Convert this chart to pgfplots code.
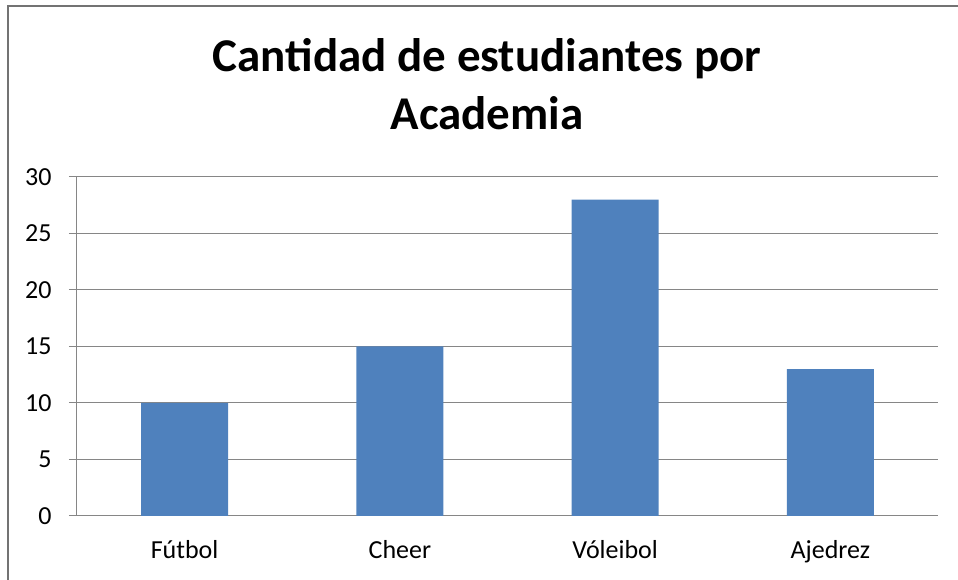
\documentclass[border=0pt]{standalone}
\usepackage{pgfplots}
\pgfplotsset{compat=1.18}
\usepackage{fontspec}
\setmainfont{Carlito}
\definecolor{barblue}{HTML}{4F81BD}
\definecolor{gridgray}{HTML}{868686}
\begin{document}
\begin{tikzpicture}
\path[use as bounding box] (0pt,0pt) rectangle (958pt,580pt);
\draw[gray!90!black, line width=2.5pt] (8pt,0pt) -- (8pt,574pt) -- (958pt,574pt);
\node[font=\bfseries\fontsize{47}{55}\selectfont, anchor=base] at (487pt,508pt) {Cantidad de estudiantes por};
\node[font=\bfseries\fontsize{47}{55}\selectfont, anchor=base] at (487pt,450pt) {Academia};
\begin{axis}[
  at={(77pt,64pt)}, anchor=south west,
  scale only axis, width=861pt, height=339pt,
  xmin=0, xmax=4, ymin=0, ymax=30,
  ytick={0,5,...,30},
  xtick={0.5,1.5,2.5,3.5},
  xticklabels={Fútbol,Cheer,Vóleibol,Ajedrez},
  extra x ticks={0,1,2,3,4},
  extra x tick labels={},
  extra x tick style={major tick length=8pt, tick style={gridgray, line width=1pt}, grid=none},
  major x tick style={draw=none},
  ytick style={gridgray, line width=1pt},
  major tick length=8pt,
  tick align=outside,
  ymajorgrids, grid style={gridgray, line width=1pt},
  axis x line*=bottom, axis y line*=left,
  axis line style={gridgray, line width=1pt, -},
  ticklabel style={font=\fontsize{26}{30}\selectfont},
  /pgf/number format/assume math mode=true,
  yticklabel style={xshift=-14pt},
  xticklabel style={yshift=-13pt},
  ybar, bar width=87pt,
  enlarge x limits=false,
]
\addplot[fill=barblue, draw=none] coordinates {(0.5,10) (1.5,15) (2.5,28) (3.5,13)};
\end{axis}
\end{tikzpicture}
\end{document}
